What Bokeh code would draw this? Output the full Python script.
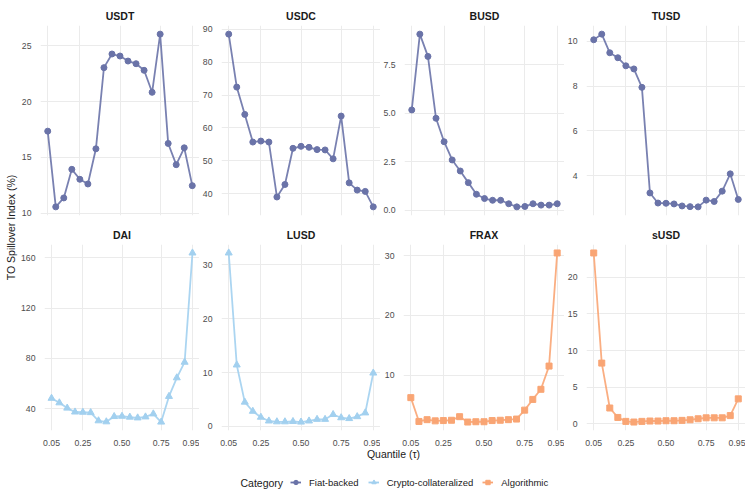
from bokeh.plotting import figure
from bokeh.layouts import row, column
from bokeh.models import (Range1d, FixedTicker, PrintfTickFormatter, Legend,
                          LegendItem, Label, ColumnDataSource)
from bokeh.embed import file_html
from bokeh.resources import INLINE

FONT = "Liberation Sans"

quantiles = [0.05, 0.10, 0.15, 0.20, 0.25, 0.30, 0.35, 0.40, 0.45, 0.50,
             0.55, 0.60, 0.65, 0.70, 0.75, 0.80, 0.85, 0.90, 0.95]
x_ticks = [0.05, 0.25, 0.50, 0.75, 0.95]

usdt = [17.35, 10.57, 11.37, 13.93, 13.04, 12.62, 15.77, 23.04, 24.26, 24.08,
        23.63, 23.39, 22.80, 20.83, 26.04, 16.25, 14.35, 15.86, 12.47]
usdc = [88.5, 72.4, 64.1, 55.7, 56.0, 55.7, 39.0, 42.8, 53.8, 54.4,
        54.1, 53.4, 53.3, 50.6, 63.6, 43.3, 41.1, 40.7, 36.0]
busd = [5.17, 9.08, 7.93, 4.74, 3.53, 2.59, 2.02, 1.42, 0.82, 0.60,
        0.51, 0.51, 0.33, 0.17, 0.19, 0.33, 0.26, 0.26, 0.33]
tusd = [10.06, 10.31, 9.48, 9.26, 8.90, 8.76, 7.94, 3.24, 2.79, 2.78,
        2.75, 2.66, 2.63, 2.62, 2.92, 2.86, 3.32, 4.09, 2.95]
dai = [48.3, 44.7, 40.5, 37.4, 37.2, 36.9, 30.4, 29.6, 33.8, 34.0,
       33.3, 32.7, 33.5, 35.9, 29.4, 49.8, 64.6, 77.0, 163.9]
lusd = [32.2, 11.4, 4.5, 2.8, 1.7, 1.0, 0.85, 0.85, 0.9, 0.8,
        1.0, 1.3, 1.3, 2.2, 1.6, 1.45, 1.8, 2.5, 9.9]
frax = [6.2, 2.2, 2.5, 2.3, 2.35, 2.4, 3.0, 2.1, 2.15, 2.15,
        2.35, 2.4, 2.5, 2.6, 4.1, 5.9, 7.6, 11.5, 30.5]
susd = [23.34, 8.28, 2.14, 0.85, 0.31, 0.22, 0.31, 0.36, 0.36, 0.40,
        0.40, 0.45, 0.53, 0.67, 0.80, 0.80, 0.80, 1.10, 3.39]

names = ["USDT", "USDC", "BUSD", "TUSD", "DAI", "LUSD", "FRAX", "sUSD"]
series = [usdt, usdc, busd, tusd, dai, lusd, frax, susd]
categories = ["Fiat-backed", "Fiat-backed", "Fiat-backed", "Fiat-backed",
              "Crypto-collateralized", "Crypto-collateralized", "Algorithmic", "Algorithmic"]
y_ticks = [[10, 15, 20, 25], [40, 50, 60, 70, 80, 90], [0, 2.5, 5.0, 7.5], [4, 6, 8, 10],
           [40, 80, 120, 160], [0, 10, 20, 30], [10, 20, 30], [0, 5, 10, 15, 20]]
y_formats = ["%d", "%d", "%.1f", "%d", "%d", "%d", "%d", "%d"]

legend_order = ["Fiat-backed", "Crypto-collateralized", "Algorithmic"]
legend_series = [usdt, dai, frax]
colors = {"Fiat-backed": "#6A73A8", "Crypto-collateralized": "#A2D0EF", "Algorithmic": "#F9A574"}
markers = {"Fiat-backed": "circle", "Crypto-collateralized": "triangle", "Algorithmic": "square"}
msizes = {"Fiat-backed": 6, "Crypto-collateralized": 7, "Algorithmic": 6}

YL_W = 18
LEFTS = [20, 20, 23, 20]
FW, FH = 161, 190
TOPS = [25, 17]
BOTTOMS = [8, 18]
GRID = "#EBEBEB"
TICK_COLOR = "#4D4D4D"
TEXT_COLOR = "#1A1A1A"


def make_panel(i):
    vals = series[i]
    cat = categories[i]
    col, rw = i % 4, i // 4
    lo, hi = min(vals), max(vals)
    pad = 0.05 * (hi - lo)
    p = figure(width=LEFTS[col] + FW, height=TOPS[rw] + FH + BOTTOMS[rw],
               min_border_left=LEFTS[col], min_border_right=0,
               min_border_top=TOPS[rw], min_border_bottom=BOTTOMS[rw],
               x_range=Range1d(0.005, 0.995), y_range=Range1d(lo - pad, hi + pad),
               toolbar_location=None, output_backend="svg", title=names[i])
    p.title.align = "center"
    p.title.text_font = FONT
    p.title.text_font_size = "10.5px"
    p.title.text_font_style = "bold"
    p.title.text_color = TEXT_COLOR
    p.title.standoff = 7
    p.outline_line_color = None

    p.xaxis.ticker = FixedTicker(ticks=x_ticks)
    p.xaxis.formatter = PrintfTickFormatter(format="%.2f")
    p.xgrid.ticker = FixedTicker(ticks=x_ticks)
    p.yaxis.ticker = FixedTicker(ticks=y_ticks[i])
    p.yaxis.formatter = PrintfTickFormatter(format=y_formats[i])
    p.ygrid.ticker = FixedTicker(ticks=y_ticks[i])
    for ax in (p.xaxis[0], p.yaxis[0]):
        ax.axis_line_color = None
        ax.major_tick_line_color = None
        ax.minor_tick_line_color = None
        ax.major_label_text_font = FONT
        ax.major_label_text_font_size = "8.7px"
        ax.major_label_text_color = TICK_COLOR
        ax.major_label_standoff = 3
    if rw == 0:
        p.xaxis.visible = False
    for g in (p.xgrid[0], p.ygrid[0]):
        g.grid_line_color = GRID
        g.grid_line_width = 1
        g.minor_grid_line_color = None

    src = ColumnDataSource(data=dict(q=quantiles, v=vals))
    p.line("q", "v", source=src, color=colors[cat], line_width=1.8, line_alpha=0.9)
    p.scatter("q", "v", source=src, marker=markers[cat], size=msizes[cat],
              color=colors[cat])
    return p


panels = [make_panel(i) for i in range(8)]
grid = column(row(*panels[:4]), row(*panels[4:]))

yl_h = sum(TOPS) + 2 * FH + sum(BOTTOMS)
yl = figure(width=YL_W, height=yl_h, min_border_left=0, min_border_right=0,
            min_border_top=0, min_border_bottom=0,
            x_axis_location=None, y_axis_location=None, toolbar_location=None,
            output_backend="svg")
yl.outline_line_color = None
yl.grid.visible = False
yl.add_layout(Label(x=10, y=yl_h - 227, x_units="screen", y_units="screen",
                    text="TO Spillover Index (%)", angle=90, angle_units="deg",
                    text_align="center", text_baseline="middle",
                    text_font=FONT, text_font_size="10.5px", text_color=TEXT_COLOR))

total_w = YL_W + sum(LEFTS) + 4 * FW
LF_H = 46
lf_left = YL_W + LEFTS[0]
lf = figure(width=total_w, height=LF_H, min_border_left=lf_left, min_border_right=0,
            min_border_top=0, min_border_bottom=0,
            x_range=Range1d(0.005, 0.995), y_range=Range1d(-2, -1),
            x_axis_location=None, y_axis_location=None, toolbar_location=None,
            output_backend="svg")
lf.outline_line_color = None
lf.grid.visible = False
lf.add_layout(Label(x=393 - lf_left, y=LF_H - 5, x_units="screen", y_units="screen",
                    text="Quantile (τ)", text_align="center", text_baseline="middle",
                    text_font=FONT, text_font_size="10.5px", text_color=TEXT_COLOR))

items = []
for cat, vals in zip(legend_order, legend_series):
    src = ColumnDataSource(data=dict(q=quantiles, v=vals))
    lr = lf.line("q", "v", source=src, color=colors[cat], line_width=1.8)
    sr = lf.scatter("q", "v", source=src, marker=markers[cat], size=msizes[cat],
                    color=colors[cat])
    items.append(LegendItem(label=cat, renderers=[lr, sr]))
leg = Legend(items=items, orientation="horizontal", location=(290 - lf_left, 6),
             glyph_width=11, glyph_height=12, label_height=12, label_width=10,
             label_standoff=8, spacing=9, padding=0, margin=0,
             label_text_font=FONT, label_text_font_size="9.5px",
             label_text_color=TEXT_COLOR,
             border_line_color=None, background_fill_color=None)
lf.add_layout(leg, "center")
lf.add_layout(Label(x=240 - lf_left, y=12, x_units="screen", y_units="screen",
                    text="Category", text_font=FONT, text_font_size="10.5px",
                    text_color=TEXT_COLOR, text_baseline="middle"))

layout = column(row(yl, grid), lf)

open("out.html", "w").write(file_html(layout, INLINE))
